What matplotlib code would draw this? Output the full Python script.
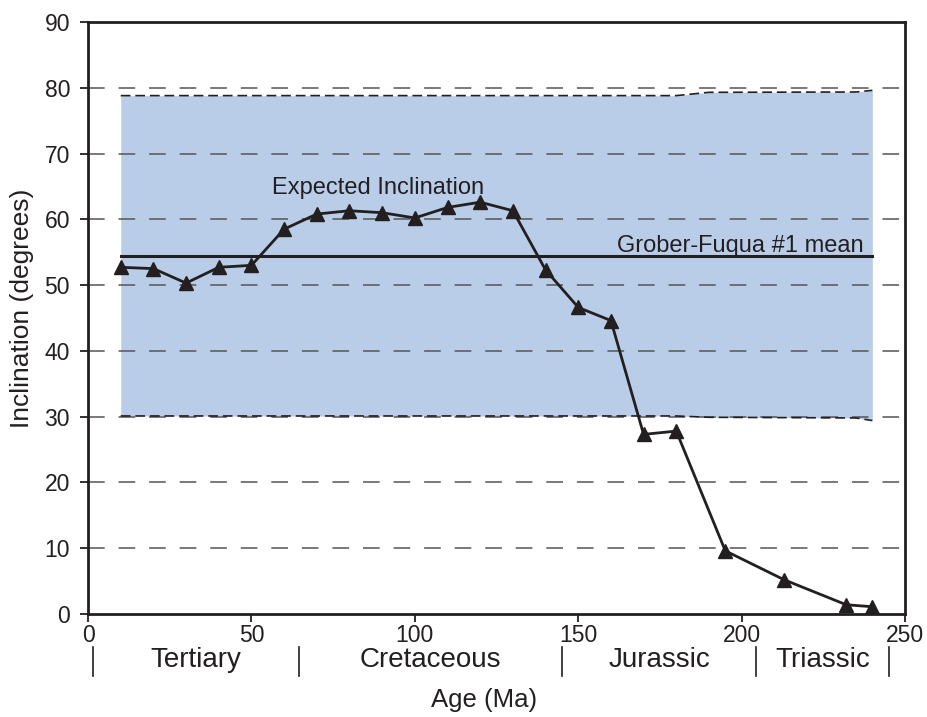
"""Expected paleomagnetic inclination vs age, with the Grober-Fuqua #1 mean and its confidence band."""

import matplotlib

matplotlib.use("Agg")
import matplotlib.pyplot as plt
import matplotlib.transforms as mtransforms

plt.rcParams["font.family"] = ["Liberation Sans", "DejaVu Sans"]
plt.rcParams["lines.scale_dashes"] = False

INK = "#231f20"

# Expected inclination curve
AGE = [10, 20, 30, 40, 50, 60, 70, 80, 90, 100, 110, 120, 130,
       140, 150, 160, 170, 180, 195, 213, 232, 240]
INCL = [52.7, 52.5, 50.3, 52.7, 53.0, 58.5, 60.8, 61.3, 61.0, 60.2, 61.8, 62.6, 61.3,
        52.3, 46.6, 44.6, 27.3, 27.8, 9.6, 5.2, 1.4, 1.1]

# Grober-Fuqua #1 mean and its shaded range
MEAN = 54.4
BAND_AGE = [10, 180, 190, 235, 240]
BAND_UPPER = [78.8, 78.8, 79.3, 79.35, 79.6]
BAND_LOWER = [30.1, 30.1, 29.9, 29.8, 29.4]

# Geologic periods along the age axis
ERAS = ["Tertiary", "Cretaceous", "Jurassic", "Triassic"]
ERA_BOUNDS = [1.5, 64.5, 145, 204.5, 245]

X_TICKS = [0, 50, 100, 150, 200, 250]
Y_TICKS = [0, 10, 20, 30, 40, 50, 60, 70, 80, 90]
GRID_LEVELS = [10, 20, 30, 40, 50, 60, 70, 80]

fig = plt.figure(figsize=(9.27, 7.17), dpi=100)
ax = fig.add_axes([0.095, 0.1437, 0.8813, 0.8257])

# shaded range and its dashed edges
ax.fill_between(BAND_AGE, BAND_LOWER, BAND_UPPER, color="#b9cde8", lw=0, zorder=1)
for edge in (BAND_UPPER, BAND_LOWER):
    ax.plot(BAND_AGE, edge, color=INK, lw=1.2, dashes=(7, 3.5), zorder=3)

for y in GRID_LEVELS:
    ax.axhline(y, color="#555555", lw=1.1, dashes=(12, 10), zorder=2)

ax.plot([BAND_AGE[0], BAND_AGE[-1]], [MEAN, MEAN], color=INK, lw=2.2, zorder=4)
ax.plot(AGE, INCL, color=INK, lw=2.0, marker="^", ms=9.5, zorder=5)

ax.text(56.3, 63.85, "Expected Inclination", fontsize=17, color=INK,
        ha="left", va="baseline", zorder=6)
ax.text(161.8, 55.1, "Grober-Fuqua #1 mean", fontsize=17, color=INK,
        ha="left", va="baseline", zorder=6)

ax.set_xlim(0, 250)
ax.set_ylim(0, 90)
ax.set_xticks(X_TICKS)
ax.set_yticks(Y_TICKS)
ax.tick_params(axis="both", direction="out", length=6, width=1.3, colors=INK,
               labelsize=16.5)
ax.tick_params(axis="y", pad=7)
ax.tick_params(axis="x", pad=1.5)
for side in ax.spines.values():
    side.set_linewidth(2.0)
    side.set_color(INK)

# period names under the tick labels
trans = mtransforms.blended_transform_factory(ax.transData, ax.transAxes)
for name, lo, hi in zip(ERAS, ERA_BOUNDS[:-1], ERA_BOUNDS[1:]):
    ax.text((lo + hi) / 2, -0.078, name, transform=trans, fontsize=20,
            color=INK, ha="center", va="center")
for b in ERA_BOUNDS:
    ax.plot([b, b], [-0.056, -0.104], transform=trans, color=INK, lw=1.2,
            clip_on=False)

ax.set_xlabel("Age (Ma)", fontsize=18.5, color=INK)
ax.xaxis.set_label_coords(0.4847, -0.145)
ax.xaxis.label.set_verticalalignment("center")
ax.set_ylabel("Inclination (degrees)", fontsize=19, color=INK)
ax.yaxis.set_label_coords(-0.0814, 0.517)
ax.yaxis.label.set_verticalalignment("center")

fig.savefig("out.png", dpi=100)
plt.close(fig)
